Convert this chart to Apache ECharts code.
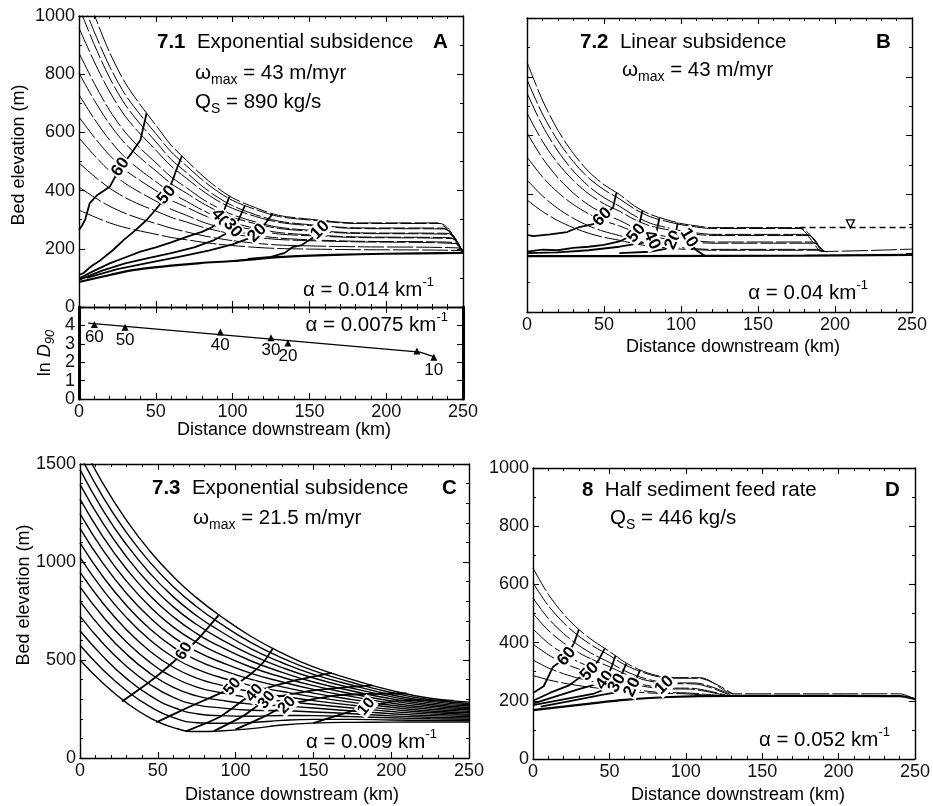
<!DOCTYPE html>
<html>
<head>
<meta charset="utf-8">
<script src="https://cdn.jsdelivr.net/npm/echarts@6/dist/echarts.min.js"></script>
<style>
html,body{margin:0;padding:0;background:#fff;}
#chart{width:933px;height:806px;}
</style>
</head>
<body>
<div id="chart"></div>
<script>
// ---------- Panel A: exponential subsidence, wmax = 43 m/myr ----------
const aDist = [0, 10, 20, 30, 40, 50, 60, 70, 80, 90, 100, 115, 130, 150, 180];
const aProfiles = [
  [1150, 1004, 874, 771, 694, 625, 556, 504, 453, 410, 375, 341, 315, 302, 289],
  [1080, 945, 826, 731, 660, 596, 533, 485, 438, 398, 366, 335, 311, 299, 287],
  [1030, 901, 787, 696, 628, 568, 507, 462, 416, 378, 348, 317, 295, 283, 272],
  [959, 842, 739, 656, 594, 539, 484, 442, 401, 366, 339, 311, 291, 280, 270],
  [873, 768, 675, 601, 545, 496, 447, 410, 372, 342, 317, 292, 274, 264, 255],
  [804, 710, 628, 562, 512, 468, 424, 391, 358, 330, 308, 286, 270, 261, 253],
  [729, 646, 573, 514, 470, 431, 392, 363, 334, 309, 290, 270, 256, 248, 241],
  [653, 583, 521, 471, 434, 400, 367, 343, 318, 297, 280, 264, 251, 245, 239],
  [581, 521, 467, 425, 393, 364, 336, 315, 293, 276, 262, 247, 237, 231, 226],
  [495, 449, 408, 376, 351, 330, 308, 292, 275, 262, 251, 240, 232, 228, 224],
  [412, 377, 346, 322, 303, 287, 271, 258, 246, 236, 228, 219, 213, 210, 207],
  [333, 310, 289, 273, 261, 250, 239, 231, 223, 216, 211, 205, 201, 199, 197]
];
const aProfileEnds = [
  [[233, 289], [250, 186]], [[235, 287], [250, 186]], [[237, 271], [250, 186]],
  [[238, 268], [250, 186]], [[240, 253], [250, 186]], [[241, 250], [250, 186]],
  [[242, 238], [250, 186]], [[243, 235], [250, 186]], [[244, 222], [250, 186]],
  [[245, 218], [250, 186]], [[247, 203], [250, 186]], [[248, 194], [250, 186]]
];
const aBase = [[0, 86], [20, 110], [35, 127], [60, 142], [79, 151], [100, 158], [133, 172], [166, 179], [200, 183], [250, 186]];
const aIsochrones = [
  [[0, 265], [2, 280], [4, 300], [7, 357], [12, 385], [20, 413], [27, 481], [33, 520], [40, 574], [44, 666]],
  [[0, 110], [3, 117], [8, 140], [14, 161], [22, 195], [29, 230], [37, 265], [44, 299], [50, 335], [55, 368], [58, 400], [61, 436], [64, 480], [67, 519]],
  [[0, 98], [10, 125], [20, 150], [30, 170], [40, 190], [50, 205], [60, 222], [70, 241], [80, 258], [87, 275], [92, 305], [95, 340], [98, 380]],
  [[0, 93], [15, 125], [30, 150], [45, 168], [60, 185], [75, 205], [88, 230], [95, 250], [100, 271], [104, 300], [108, 348]],
  [[5, 100], [25, 130], [45, 152], [65, 172], [85, 195], [100, 215], [110, 235], [116, 254], [121, 285], [126, 320]],
  [[110, 165], [125, 172], [134, 186], [139, 206], [145, 213], [152, 237], [157, 265], [162, 298]]
];
const aIsoLabels = [[27, 481, '60', 55], [57, 385, '50', 50], [92, 305, '40', -50], [100, 271, '30', -50], [116, 254, '20', 45], [157, 265, '10', 45]];

// ---------- Panel A (lower): ln D90 downstream ----------
const lnDist = [10, 30, 92, 125, 136, 220, 231];
const lnD90 = [4.05, 3.9, 3.64, 3.33, 3.04, 2.61, 2.27];
const lnAge = ['60', '50', '40', '30', '20', '', '10'];
const lnTrend = [[6, 4.12], [222, 2.55], [231, 2.3]];

// ---------- Panel B: linear subsidence ----------
const bDist = [0, 10, 20, 30, 40, 50, 60, 70, 80, 90, 100, 110, 120];
const bProfiles = [
  [850, 721, 619, 540, 478, 433, 400, 360, 332, 315, 301, 293, 287],
  [790, 674, 583, 512, 456, 416, 385, 350, 324, 309, 297, 289, 284],
  [745, 634, 548, 480, 428, 389, 360, 327, 302, 288, 276, 269, 264],
  [677, 581, 506, 448, 402, 368, 343, 314, 293, 281, 270, 264, 260],
  [609, 524, 457, 405, 364, 334, 312, 286, 268, 257, 247, 242, 238],
  [527, 460, 407, 366, 334, 310, 293, 272, 257, 249, 241, 237, 234],
  [449, 395, 352, 319, 293, 274, 260, 244, 232, 225, 219, 215, 213],
  [381, 342, 311, 287, 268, 254, 244, 232, 224, 219, 214, 212, 210]
];
const bProfileEnds = [
  [[176, 287], [186, 236], [191, 206], [250, 214]],
  [[178, 284], [188, 232]], [[182, 264], [190, 214]], [[183, 260], [191, 212]],
  [[185, 238], [192, 208]], [[186, 234], [193, 206]], [[188, 213], [194, 205]],
  [[189, 210], [195, 204]]
];
const bBase = [[0, 190], [60, 190], [120, 191], [180, 192], [250, 194]];
const bWater = [[177, 287], [250, 287]];
const bWaterMark = [[210, 300]];
const bIsochrones = [
  [[0, 262], [4, 258], [15, 264], [26, 272], [34, 289], [43, 299], [49, 323], [56, 357], [58, 405]],
  [[0, 205], [10, 212], [20, 210], [30, 218], [40, 222], [50, 228], [60, 240], [66, 255], [71, 268], [73, 300], [75, 345]],
  [[0, 200], [20, 203], [40, 210], [60, 222], [75, 235], [81, 245], [84, 270], [86, 320]],
  [[60, 200], [80, 205], [90, 215], [95, 245], [97, 280], [98, 304]],
  [[116, 190], [110, 210], [106, 235], [105, 252], [106, 275], [107, 296]]
];
const bIsoLabels = [[49, 323, '60', 45], [71, 268, '50', 50], [81, 245, '40', -65], [95, 245, '20', 65], [105, 252, '10', -60]];

// ---------- Panel C: exponential subsidence, wmax = 21.5 m/myr ----------
const cDist = [0, 15, 30, 45, 60, 75, 90, 110, 130, 150, 175, 200, 225, 250];
const cProfiles = [
  [500, 380, 281, 205, 155, 135, 138, 150, 168, 178, 182, 183, 184, 184],
  [575, 448, 343, 262, 206, 180, 177, 181, 192, 197, 197, 194, 192, 191],
  [649, 516, 405, 318, 258, 226, 216, 213, 217, 216, 211, 205, 200, 197],
  [724, 583, 467, 375, 309, 271, 256, 244, 241, 235, 226, 215, 208, 204],
  [799, 651, 529, 432, 360, 317, 295, 275, 266, 255, 240, 226, 216, 211],
  [873, 719, 591, 488, 412, 362, 334, 307, 290, 274, 255, 237, 224, 218],
  [948, 787, 653, 545, 463, 408, 373, 338, 315, 293, 269, 248, 232, 224],
  [1023, 855, 715, 602, 514, 453, 412, 369, 339, 312, 284, 259, 240, 231],
  [1097, 922, 777, 658, 566, 499, 452, 401, 363, 331, 298, 269, 249, 238],
  [1172, 990, 839, 715, 617, 544, 491, 432, 388, 350, 313, 280, 257, 245],
  [1247, 1058, 901, 772, 668, 590, 530, 463, 412, 369, 327, 291, 265, 251],
  [1321, 1126, 963, 828, 720, 635, 569, 495, 437, 388, 342, 302, 273, 258],
  [1396, 1194, 1025, 885, 771, 681, 608, 526, 461, 408, 356, 313, 281, 265],
  [1471, 1261, 1087, 942, 822, 726, 648, 557, 486, 427, 371, 323, 289, 272],
  [1545, 1329, 1149, 998, 874, 772, 687, 589, 510, 446, 385, 334, 297, 278],
  [1620, 1397, 1211, 1055, 925, 817, 726, 620, 535, 465, 400, 345, 305, 285]
];
const cIsochrones = [
  [[27, 288], [45, 390], [60, 490], [75, 600], [89, 728]],
  [[49, 182], [70, 260], [90, 330], [98, 364], [110, 430], [118, 490], [124, 560]],
  [[68, 136], [90, 210], [112, 332], [135, 390], [162, 434]],
  [[86, 137], [105, 215], [120, 296], [150, 345], [188, 371]],
  [[100, 146], [118, 210], [133, 270], [165, 320], [210, 329]],
  [[150, 178], [170, 228], [184, 262], [210, 295], [240, 293]]
];
const cIsoLabels = [[67, 545, '60', 60], [98, 364, '50', 50], [112, 332, '40', 50], [120, 296, '30', 50], [133, 270, '20', 45], [184, 262, '10', 50]];

// ---------- Panel D: half sediment feed rate ----------
const dDist = [0, 10, 20, 30, 40, 50, 60, 70, 80, 90];
const dProfiles = [
  [656, 566, 498, 445, 404, 370, 333, 306, 288, 280],
  [605, 527, 468, 422, 386, 356, 324, 301, 285, 278],
  [553, 483, 431, 390, 358, 332, 303, 282, 268, 262],
  [500, 442, 399, 365, 339, 317, 293, 276, 264, 259],
  [447, 398, 362, 333, 311, 293, 272, 258, 248, 244],
  [395, 358, 330, 309, 292, 278, 263, 252, 244, 241],
  [340, 313, 293, 277, 265, 255, 244, 236, 230, 228],
  [287, 272, 261, 252, 245, 240, 234, 229, 226, 225]
];
const dProfileEnds = [
  [[110, 279], [132, 224], [240, 224], [250, 206]],
  [[109, 277], [131, 223]], [[107, 261], [129, 222]], [[106, 258], [128, 221]],
  [[104, 243], [126, 220]], [[103, 240], [125, 219]], [[101, 227], [122, 218]],
  [[100, 224], [120, 217]]
];
const dBase = [[0, 168], [20, 180], [40, 192], [60, 203], [89, 213], [130, 217], [200, 217], [240, 216], [250, 206]];
const dIsochrones = [
  [[0, 227], [7, 250], [13, 316], [18, 335], [22, 352], [27, 400], [30, 445]],
  [[0, 200], [11, 227], [24, 254], [30, 278], [37, 300], [43, 340], [47, 380]],
  [[0, 190], [15, 215], [30, 240], [40, 255], [47, 271], [51, 310], [54, 355]],
  [[0, 185], [20, 205], [40, 225], [50, 245], [55, 261], [58, 290], [61, 328]],
  [[5, 180], [25, 200], [45, 220], [58, 232], [65, 247], [68, 280], [70, 305]],
  [[86, 213], [86, 235], [86, 254], [85, 270], [85, 284]]
];
const dIsoLabels = [[22, 352, '60', 50], [37, 300, '50', 45], [47, 271, '40', 55], [55, 261, '30', 60], [65, 247, '20', 65], [86, 254, '10', 45]];

// ---------- shared styling ----------
const FONT = '"Liberation Sans", Arial, Helvetica, sans-serif';
const INK = '#000';
const profileStyle = {color: INK, width: 1, type: [26, 3]};
const denseStyle = {color: INK, width: 1.4};
const isoStyle = {color: INK, width: 1.8};
const baseStyle = {color: INK, width: 2.2};

const grids = [
  {left: 79, top: 16, width: 384, height: 291},   // A
  {left: 79, top: 307, width: 384, height: 92},   // A, ln D90
  {left: 527, top: 18, width: 385, height: 294},  // B
  {left: 80, top: 464, width: 389, height: 294},  // C
  {left: 533, top: 468, width: 385, height: 291}  // D
];

const plain = v => String(v);
const xAxes = [], yAxes = [];
function frame(gi, cfg) {
  const tick = {show: true, inside: true, length: 6, lineStyle: {color: INK, width: 1.1}};
  const xBase = {
    gridIndex: gi, type: 'value', min: 0, max: 250, interval: 50,
    splitLine: {show: false},
    axisLine: {show: true, onZero: false, lineStyle: {color: INK, width: 1.4}},
    axisTick: tick,
    minorTick: {show: true, splitNumber: 5, length: 3, lineStyle: {color: INK, width: 1}}
  };
  xAxes.push(Object.assign({}, xBase, {position: 'bottom',
    axisLabel: {show: cfg.xLabels, margin: 4, fontSize: 18, fontFamily: FONT, color: '#111', formatter: plain}}));
  xAxes.push(Object.assign({}, xBase, {position: 'top', axisLabel: {show: false}}));
  const yBase = {
    gridIndex: gi, type: 'value', min: cfg.yMin, max: cfg.yMax, interval: cfg.yStep,
    splitLine: {show: false},
    axisLine: {show: true, onZero: false, lineStyle: {color: INK, width: cfg.yLineW || 1.4}},
    axisTick: tick,
    minorTick: {show: !!cfg.yMinor, splitNumber: cfg.yMinor || 2, length: 3, lineStyle: {color: INK, width: 1}}
  };
  const lab = {show: cfg.yLabels, margin: 4, fontSize: 18, fontFamily: FONT, color: '#111',
    formatter: cfg.yFmt || plain};
  yAxes.push(Object.assign({}, yBase, {position: 'left', axisLabel: lab}));
  yAxes.push(Object.assign({}, yBase, {position: 'right', axisLabel: {show: false}}));
}
frame(0, {xLabels: false, yMin: 0, yMax: 1000, yStep: 200, yMinor: 2, yLabels: true});
frame(1, {xLabels: true, yMin: 0, yMax: 5, yStep: 1, yLabels: true, yLineW: 3, yFmt: v => (v === 5 ? '' : String(v))});
frame(2, {xLabels: true, yMin: 0, yMax: 1000, yStep: 200, yMinor: 2, yLabels: false});
frame(3, {xLabels: true, yMin: 0, yMax: 1500, yStep: 500, yMinor: 5, yLabels: true});
frame(4, {xLabels: true, yMin: 0, yMax: 1000, yStep: 200, yMinor: 2, yLabels: true});

const series = [];
function curve(gi, pts, style, smooth, z) {
  series.push({
    type: 'line', xAxisIndex: 2 * gi, yAxisIndex: 2 * gi, data: pts,
    symbol: 'none', smooth: smooth || 0,
    lineStyle: style, silent: true, z: z || 2, clip: true
  });
}
function profiles(gi, dist, rows, ends, style, smooth) {
  rows.forEach((row, i) => {
    const pts = dist.map((x, j) => [x, row[j]]);
    curve(gi, ends ? pts.concat(ends[i]) : pts, style, smooth, 2);
  });
}
function tags(gi, list, size) {
  series.push({
    type: 'scatter', xAxisIndex: 2 * gi, yAxisIndex: 2 * gi, symbolSize: 0,
    itemStyle: {color: INK, opacity: 1}, silent: true, z: 8,
    data: list.map(t => ({
      value: [t[0], t[1]],
      label: {show: true, position: 'inside', formatter: t[2], rotate: t[3], opacity: 1,
        fontSize: size, fontFamily: FONT, fontWeight: 'bold', color: INK, backgroundColor: '#fff',
        textBorderWidth: 0, padding: [0, 1], lineHeight: size}
    }))
  });
}

// A
profiles(0, aDist, aProfiles, aProfileEnds, profileStyle, 0.3);
curve(0, aBase, baseStyle, 0.3, 3);
aIsochrones.forEach(c => curve(0, c, isoStyle, 0, 4));
tags(0, aIsoLabels, 17);

// A, ln D90
curve(1, lnTrend, {color: INK, width: 1.3}, 0, 3);
series.push({
  type: 'scatter', xAxisIndex: 2, yAxisIndex: 2, symbol: 'triangle', symbolSize: 7,
  itemStyle: {color: INK, opacity: 1}, silent: true, z: 5,
  data: lnDist.map((x, i) => ({value: [x, lnD90[i]],
    label: {show: lnAge[i] !== '', position: 'bottom', distance: 1, formatter: lnAge[i],
      opacity: 1, fontSize: 17, fontFamily: FONT, color: INK}}))
});

// B
profiles(2, bDist, bProfiles, bProfileEnds, profileStyle, 0.3);
curve(2, bBase, baseStyle, 0, 3);
curve(2, bWater, {color: INK, width: 1.5, type: [6, 4]}, 0, 3);
series.push({
  type: 'scatter', xAxisIndex: 4, yAxisIndex: 4, symbol: 'triangle', symbolRotate: 180,
  symbolSize: 8, data: bWaterMark, silent: true, z: 5,
  itemStyle: {color: '#fff', borderColor: INK, borderWidth: 1.3, opacity: 1}
});
bIsochrones.forEach(c => curve(2, c, isoStyle, 0, 4));
tags(2, bIsoLabels, 17);

// C
profiles(3, cDist, cProfiles, null, denseStyle, 0.5);
cIsochrones.forEach(c => curve(3, c, isoStyle, 0.2, 4));
tags(3, cIsoLabels, 16);

// D
profiles(4, dDist, dProfiles, dProfileEnds, profileStyle, 0.3);
curve(4, dBase, baseStyle, 0.3, 3);
dIsochrones.forEach(c => curve(4, c, isoStyle, 0, 4));
tags(4, dIsoLabels, 17);

// ---------- annotations ----------
const RICH = {
  n: {fontSize: 20.5, fontFamily: FONT, lineHeight: 28, color: INK},
  b: {fontSize: 20.5, fontFamily: FONT, fontWeight: 'bold', lineHeight: 28, color: INK},
  sub: {fontSize: 14, fontFamily: FONT, lineHeight: 16, verticalAlign: 'bottom', color: INK},
  sup: {fontSize: 13, fontFamily: FONT, lineHeight: 14, verticalAlign: 'top', color: INK},
  a: {fontSize: 18, fontFamily: FONT, lineHeight: 24, color: INK},
  ai: {fontSize: 18, fontFamily: FONT, fontStyle: 'italic', lineHeight: 24, color: INK},
  as: {fontSize: 13, fontFamily: FONT, fontStyle: 'italic', lineHeight: 14, verticalAlign: 'bottom', color: INK}
};
function note(x, y, text, align, rot) {
  return {
    type: 'text', x: x, y: y, rotation: rot || 0, silent: true, z: 20,
    style: {text: text, rich: RICH, fontSize: 20.5, fontFamily: FONT, fill: INK,
      align: align || 'left', verticalAlign: 'middle',
      textAlign: align || 'left', textVerticalAlign: 'middle'}
  };
}
const graphics = [
  note(157, 42, '{b|7.1}{n|  Exponential subsidence}'),
  note(433, 42, '{b|A}'),
  note(195, 73, '{n|ω}{sub|max}{n| = 43 m/myr}'),
  note(195, 102, '{n|Q}{sub|S}{n| = 890 kg/s}'),
  note(434, 290, '{n|α = 0.014 km}{sup|-1}', 'right'),
  note(448, 325, '{n|α = 0.0075 km}{sup|-1}', 'right'),

  note(580, 42, '{b|7.2}{n|  Linear subsidence}'),
  note(876, 42, '{b|B}'),
  note(622, 70, '{n|ω}{sub|max}{n| = 43 m/myr}'),
  note(868, 293, '{n|α = 0.04 km}{sup|-1}', 'right'),

  note(152, 488, '{b|7.3}{n|  Exponential subsidence}'),
  note(442, 488, '{b|C}'),
  note(193, 518, '{n|ω}{sub|max}{n| = 21.5 m/myr}'),
  note(437, 742, '{n|α = 0.009 km}{sup|-1}', 'right'),

  note(582, 490, '{b|8}{n|  Half sediment feed rate}'),
  note(885, 490, '{b|D}'),
  note(610, 518, '{n|Q}{sub|S}{n| = 446 kg/s}'),
  note(890, 740, '{n|α = 0.052 km}{sup|-1}', 'right'),

  note(19, 155, '{a|Bed elevation (m)}', 'center', Math.PI / 2),
  note(45, 353, '{a|ln }{ai|D}{as|90}', 'center', Math.PI / 2),
  note(24, 595, '{a|Bed elevation (m)}', 'center', Math.PI / 2),
  note(284, 430, '{a|Distance downstream (km)}', 'center'),
  note(733, 347, '{a|Distance downstream (km)}', 'center'),
  note(292, 795, '{a|Distance downstream (km)}', 'center'),
  note(738, 795, '{a|Distance downstream (km)}', 'center')
];

const chart = echarts.init(document.getElementById('chart'), null, {renderer: 'canvas'});
chart.setOption({
  animation: false,
  backgroundColor: '#fff',
  grid: grids.map(g => Object.assign({containLabel: false}, g)),
  xAxis: xAxes,
  yAxis: yAxes,
  series: series,
  graphic: graphics
});
</script>
</body>
</html>
